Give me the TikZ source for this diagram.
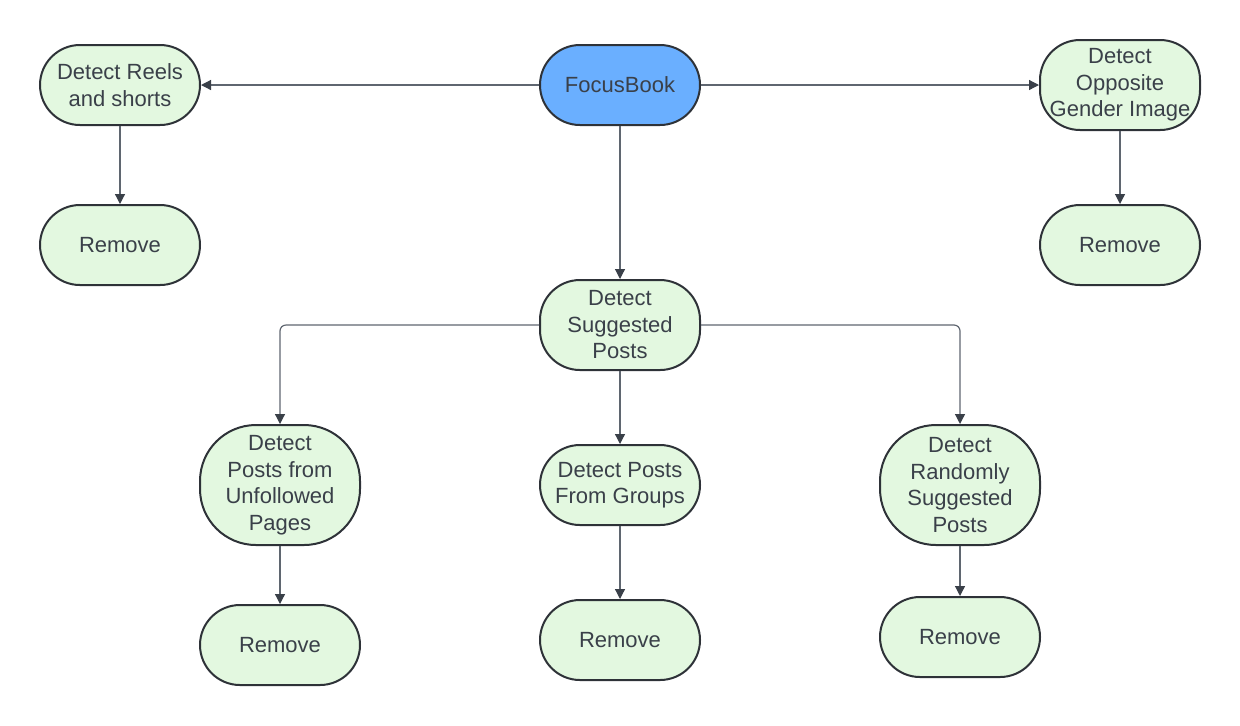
\documentclass[tikz,border=0pt]{standalone}
\usepackage{fontspec}
\setmainfont{Liberation Sans}
\usetikzlibrary{arrows.meta}
\definecolor{boxfill}{HTML}{E3F8E0}
\definecolor{topfill}{HTML}{6AAFFF}
\definecolor{boxline}{HTML}{2E3238}
\definecolor{linec}{HTML}{5F6670}
\definecolor{tipc}{HTML}{3A4049}
\definecolor{textc}{HTML}{3A4049}
\begin{document}
\begin{tikzpicture}[x=0.5pt,y=-0.5pt]
\tikzstyle{every node}=[draw=boxline, line width=1pt, fill=boxfill, text=textc, rounded corners=20pt, minimum width=80pt, minimum height=40pt, inner sep=1pt, align=center, font=\fontsize{11}{13.25}\selectfont]
\tikzstyle{tall}=[minimum height=60pt, rounded corners=28pt]
\tikzstyle{link}=[draw=linec, line width=0.6pt, rounded corners=3pt, -{Triangle[length=5pt,width=5pt,color=tipc]}]
\useasboundingbox (0,0) rectangle (1240,725);
\node (focus) at (620,85) [fill=topfill] {FocusBook};
\node (reels) at (120,85) {Detect Reels\\and shorts};
\node (gender) at (1120,85) [minimum height=45pt] {Detect\\Opposite\\Gender Image};
\node (rmreels) at (120,245) {Remove};
\node (rmgender) at (1120,245) {Remove};
\node (sugg) at (620,325) [minimum height=45pt] {Detect\\Suggested\\Posts};
\node (pages) at (280,485) [tall] {Detect\\Posts from\\Unfollowed\\Pages};
\node (groups) at (620,485) {Detect Posts\\From Groups};
\node (random) at (960,485) [tall] {Detect\\Randomly\\Suggested\\Posts};
\node (rmpages) at (280,645) {Remove};
\node (rmgroups) at (620,640) {Remove};
\node (rmrandom) at (960,637) {Remove};
\draw[link] (focus) -- (reels);
\draw[link] (focus) -- (gender);
\draw[link] (focus) -- (sugg);
\draw[link] (reels) -- (rmreels);
\draw[link] (gender) -- (rmgender);
\draw[link] (sugg.west) -| (pages.north);
\draw[link] (sugg) -- (groups);
\draw[link] (sugg.east) -| (random.north);
\draw[link] (pages) -- (rmpages);
\draw[link] (groups) -- (rmgroups);
\draw[link] (random) -- (rmrandom);
\end{tikzpicture}
\end{document}
